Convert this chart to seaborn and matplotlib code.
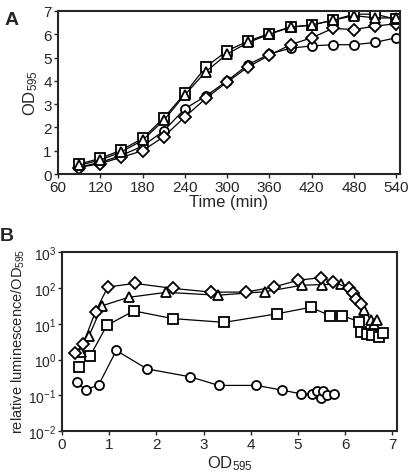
import matplotlib as mpl
import matplotlib.pyplot as plt
import numpy as np
import seaborn as sns

sns.set_style("ticks")
plt.rcParams["font.family"] = ["Liberation Sans", "DejaVu Sans"]
plt.rcParams["mathtext.fontset"] = "custom"
plt.rcParams["mathtext.rm"] = "Liberation Sans"
plt.rcParams["mathtext.it"] = "Liberation Sans"
plt.rc("font", size=11)
plt.rc("xtick", labelsize=11)
plt.rc("ytick", labelsize=11)

# Panel A: growth curves
time_min = [90, 120, 150, 180, 210, 240, 270, 300, 330, 360, 390, 420, 450, 480, 510, 540]
od_square = [0.43, 0.67, 1.03, 1.53, 2.40, 3.46, 4.60, 5.29, 5.71, 6.03, 6.31, 6.39, 6.60, 6.86, 6.86, 6.64]
od_triangle = [0.38, 0.60, 0.95, 1.45, 2.30, 3.40, 4.40, 5.15, 5.65, 6.00, 6.30, 6.40, 6.60, 6.80, 6.70, 6.70]
od_circle = [0.30, 0.50, 0.80, 1.20, 1.85, 2.80, 3.35, 4.00, 4.70, 5.15, 5.40, 5.50, 5.55, 5.55, 5.65, 5.85]
od_diamond = [0.28, 0.45, 0.72, 1.00, 1.60, 2.45, 3.25, 3.95, 4.60, 5.10, 5.55, 5.85, 6.25, 6.20, 6.35, 6.45]

# Panel B: luminescence per OD vs OD
b_dia_x = [0.28, 0.45, 0.71, 0.97, 1.54, 2.35, 3.16, 3.89, 4.49, 5.00, 5.48, 5.75, 6.08, 6.16, 6.24, 6.33]
b_dia_y = [1.5, 2.8, 22, 107, 135, 98, 77, 77, 107, 165, 195, 148, 100, 75, 50, 37]
b_tri_x = [0.40, 0.57, 0.85, 1.41, 2.21, 3.30, 4.30, 5.09, 5.51, 5.92, 6.26, 6.40, 6.54, 6.61, 6.68]
b_tri_y = [1.6, 4.5, 32, 55, 76, 63, 79, 120, 125, 128, 60, 25, 13, 9.6, 13]
b_sq_x = [0.37, 0.60, 0.95, 1.52, 2.35, 3.44, 4.55, 5.27, 5.68, 5.94, 6.29, 6.33, 6.47, 6.58, 6.72, 6.80]
b_sq_y = [0.63, 1.3, 9, 23, 14, 11, 19, 29, 17, 17, 11.5, 6, 5.3, 5, 4.2, 5.4]
b_circ_x = [0.32, 0.50, 0.78, 1.15, 1.80, 2.72, 3.32, 4.12, 4.67, 5.07, 5.30, 5.41, 5.50, 5.54, 5.62, 5.76]
b_circ_y = [0.23, 0.14, 0.2, 1.8, 0.55, 0.33, 0.19, 0.19, 0.14, 0.11, 0.11, 0.13, 0.085, 0.13, 0.10, 0.11]

MS = 6.5
style = dict(color="black", linewidth=0.9, markerfacecolor="white",
             markeredgecolor="black", markeredgewidth=1.3)

fig = plt.figure(figsize=(4.08, 4.77), dpi=100, facecolor="w")
axA = fig.add_axes([0.142, 0.633, 0.838, 0.342])
axB = fig.add_axes([0.152, 0.094, 0.821, 0.375])


def draw(ax, x, y, m):
    ms = MS - 0.5 if m == "D" else MS + (0.5 if m == "^" else 0)
    sns.lineplot(x=x, y=y, ax=ax, marker=m, estimator=None, sort=False,
                 markersize=ms, **style)


# ---- Panel A
for y, m in [(od_circle, "o"), (od_diamond, "D"), (od_square, "s"), (od_triangle, "^")]:
    draw(axA, time_min, y, m)
axA.set_xlim(60, 545)
axA.set_ylim(0, 7)
axA.set_xticks(range(60, 541, 60))
axA.set_yticks(range(0, 8))
axA.set_xlabel("Time (min)", fontsize=12, labelpad=0)
axA.set_ylabel("OD$_{595}$", fontsize=12, labelpad=2)

# ---- Panel B
for x, y, m in [(b_circ_x, b_circ_y, "o"), (b_sq_x, b_sq_y, "s"),
                (b_tri_x, b_tri_y, "^"), (b_dia_x, b_dia_y, "D")]:
    draw(axB, x, y, m)
axB.set_yscale("log")
axB.set_ylim(1e-2, 1e3)
axB.set_xlim(0, 7.1)
axB.set_xticks(range(0, 8))
axB.set_yticks([1e-2, 1e-1, 1e0, 1e1, 1e2, 1e3])
axB.yaxis.set_minor_locator(mpl.ticker.NullLocator())
axB.set_xlabel("OD$_{595}$", fontsize=12, labelpad=1)
axB.set_ylabel("relative luminescence/OD$_{595}$", fontsize=10.5)
axB.yaxis.set_label_coords(-0.105, 0.51)

for ax in (axA, axB):
    for s in ax.spines.values():
        s.set_visible(True)
        s.set_linewidth(1.5)
    ax.tick_params(direction="out", length=3, width=1, pad=1.5)
axB.tick_params(axis="y", labelsize=10, pad=1)

fig.text(0.012, 0.975, "A", fontsize=14, fontweight="bold", va="top")
fig.text(0.0, 0.522, "B", fontsize=14, fontweight="bold", va="top")

fig.savefig("out.png", dpi=100)
